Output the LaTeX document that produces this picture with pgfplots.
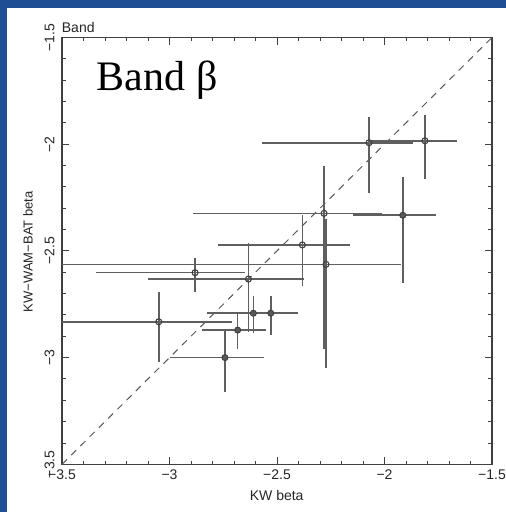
\documentclass[border=0pt]{standalone}
\usepackage{pgfplots}
\pgfplotsset{compat=1.18}
\usepackage{pgfplotstable}
\usepackage{fontspec}
\setmainfont{Liberation Serif}
\newfontfamily\lab{Liberation Sans}
\definecolor{bgblue}{RGB}{32,78,148}
\definecolor{errc}{RGB}{95,95,95}
\newcommand{\labfont}{\lab\fontsize{14}{16}\selectfont}

% x  y  (+x) (-x) (+y) (-y)
\pgfplotstableread{
x y xp xm yp ym
-2.072 -1.993 0.205 0.499 0.121 0.237
-1.812 -1.984 0.151 0.258 0.121 0.181
-2.281 -2.324 0.268 0.611 0.222 0.636
-2.272 -2.563 0.349 1.330 0.213 0.487
-2.382 -2.472 0.222 0.391 0.140 0.191
-2.881 -2.602 0.232 0.461 0.067 0.089
-2.633 -2.632 0.259 0.468 0.170 0.247
-3.050 -2.832 0.339 0.550 0.141 0.187
}\opendata
\pgfplotstableread{
x y xp xm yp ym
-1.915 -2.333 0.155 0.230 0.178 0.319
-2.610 -2.792 0.139 0.093 0.081 0.091
-2.529 -2.792 0.128 0.295 0.081 0.102
-2.683 -2.871 0.130 0.167 0.079 0.090
-2.742 -3.000 0.182 0.257 0.129 0.160
}\filleddata

\begin{document}
\begin{tikzpicture}[x=1pt,y=1pt]
\useasboundingbox (0,0) rectangle (506,512);
\fill[bgblue] (0,0) rectangle (506,512);
\fill[white] (7.3,0) rectangle (506,503.7);
\begin{axis}[
    at={(62pt,47.7pt)}, anchor=south west,
    scale only axis, width=430pt, height=426.8pt,
    xmin=-3.5, xmax=-1.5, ymin=-3.5, ymax=-1.5,
    axis line style={line width=1.1pt, black!75},
    tick align=inside,
    major tick length=7pt, minor tick length=3.7pt,
    minor tick num=4,
    tick style={line width=0.9pt, black!75},
    xtick={-3.5,-3,-2.5,-2,-1.5},
    xticklabels={−3.5,−3,−2.5,−2,−1.5},
    ytick={-3.5,-3,-2.5,-2,-1.5},
    yticklabels={−3.5,−3,−2.5,−2,−1.5},
    ticklabel style={font=\labfont, black!85},
    xticklabel style={anchor=north, yshift=-2pt},
    yticklabel style={rotate=90, anchor=south},
    yticklabel shift=4pt,
]
\addplot[black!65, line width=1pt, dash pattern=on 7pt off 6pt] coordinates {(-3.5,-3.5) (-1.5,-1.5)};
\addplot[only marks, mark=o, mark size=3pt,
    mark options={draw=black!75, line width=1.1pt},
    error bars/.cd, x dir=both, x explicit, y dir=both, y explicit,
    error mark=none, error bar style={line width=1.6pt, errc}]
    table[x=x, y=y, x error plus=xp, x error minus=xm, y error plus=yp, y error minus=ym]{\opendata};
\addplot[only marks, mark=*, mark size=3pt,
    mark options={draw=black!75, fill=black!65, line width=1pt},
    error bars/.cd, x dir=both, x explicit, y dir=both, y explicit,
    error mark=none, error bar style={line width=1.6pt, errc}]
    table[x=x, y=y, x error plus=xp, x error minus=xm, y error plus=yp, y error minus=ym]{\filleddata};
\end{axis}
\node[font=\labfont, black!85] at (276.7,17) {KW beta};
\node[rotate=90, font=\lab\fontsize{13}{15}\selectfont, black!85] at (28,260.3) {KW−WAM−BAT beta};
\node[anchor=base west, inner sep=0pt, font=\labfont, black!85] at (61.7,479) {Band};
\node[anchor=base west, inner sep=0pt, font=\fontsize{42}{46}\selectfont] at (96.7,421.3) {Band β};
\end{tikzpicture}
\end{document}
